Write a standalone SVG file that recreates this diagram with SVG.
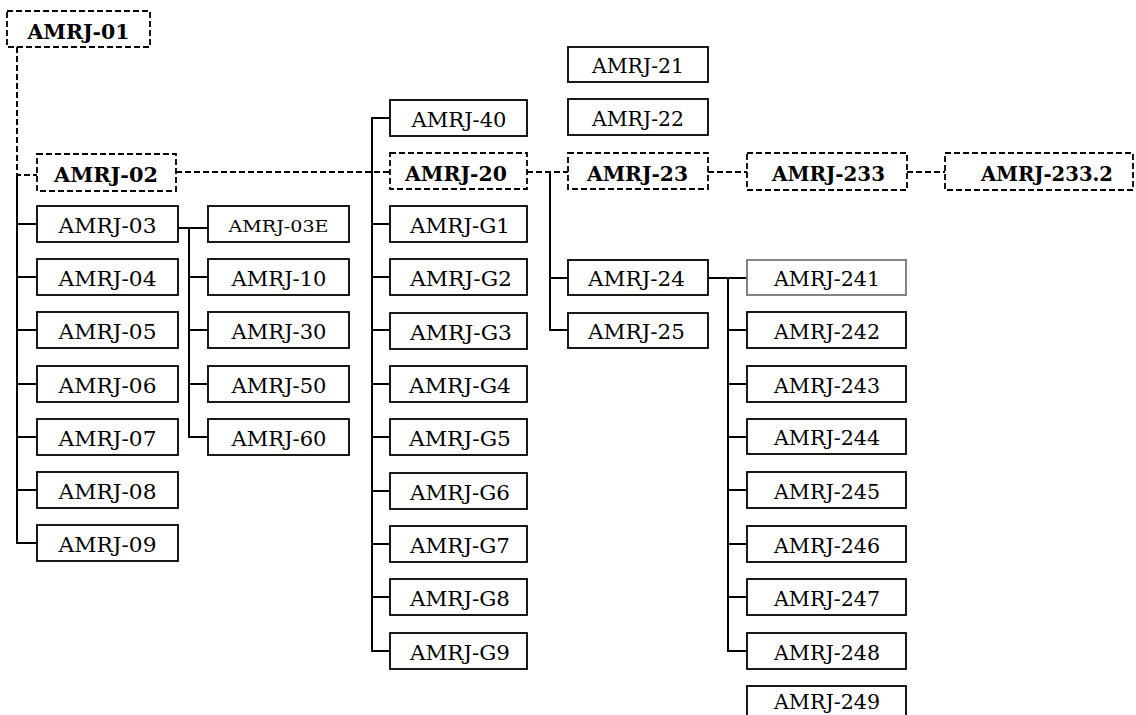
<svg xmlns="http://www.w3.org/2000/svg" width="1136" height="715" viewBox="0 0 1136 715">
<style>
.b{fill:#fff;stroke:#000;stroke-width:1.8}
.d{fill:#fff;stroke:#000;stroke-width:1.8;stroke-dasharray:6,3}
.g{fill:#fff;stroke:#777;stroke-width:1.8}
.t{font-family:"DejaVu Serif","Liberation Serif",serif;font-size:20px;fill:#000;text-anchor:middle}
.tb{font-family:"DejaVu Serif","Liberation Serif",serif;font-size:20px;font-weight:bold;fill:#000;text-anchor:middle}
.ts{font-family:"DejaVu Serif","Liberation Serif",serif;font-size:17px;fill:#000;text-anchor:middle}
.c{fill:none;stroke:#000;stroke-width:2}
.cd{fill:none;stroke:#000;stroke-width:2;stroke-dasharray:6,3}
</style>
<rect width="1136" height="715" fill="#fff"/>
<g id="connectors">
<path class="cd" d="M17 47V175H37"/>
<path class="c" d="M17 175V543H37M17 224H37M17 277H37M17 330H37M17 384H37M17 437H37M17 490H37"/>
<path class="c" d="M178 228H208M189 228V437H208M189 277H208M189 330H208M189 384H208"/>
<path class="cd" d="M176 172H390"/>
<path class="c" d="M390 118H372V651H390M372 224H390M372 277H390M372 330H390M372 384H390M372 437H390M372 491H390M372 544H390M372 597H390"/>
<path class="cd" d="M527 172H568"/>
<path class="c" d="M550 172V330H568M550 278H568"/>
<path class="cd" d="M708 172H747M907 172H945"/>
<path class="c" d="M708 278H747M728 278V651H747M728 330H747M728 384H747M728 437H747M728 490H747M728 544H747M728 597H747"/>
</g>
<g id="n01"><rect class="d" x="7" y="11" width="143" height="36"/><text class="tb" x="78.5" y="39" textLength="102" lengthAdjust="spacingAndGlyphs">AMRJ-01</text></g>
<g id="n02"><rect class="d" x="37" y="154" width="139" height="37"/><text class="tb" x="106" y="182" textLength="104" lengthAdjust="spacingAndGlyphs">AMRJ-02</text></g>
<g id="n03"><rect class="b" x="37" y="206" width="141" height="36"/><text class="t" x="107.5" y="233" textLength="98" lengthAdjust="spacingAndGlyphs">AMRJ-03</text></g>
<g id="n04"><rect class="b" x="37" y="259" width="141" height="36"/><text class="t" x="107.5" y="286" textLength="98" lengthAdjust="spacingAndGlyphs">AMRJ-04</text></g>
<g id="n05"><rect class="b" x="37" y="312" width="141" height="36"/><text class="t" x="107.5" y="339" textLength="98" lengthAdjust="spacingAndGlyphs">AMRJ-05</text></g>
<g id="n06"><rect class="b" x="37" y="366" width="141" height="36"/><text class="t" x="107.5" y="393" textLength="98" lengthAdjust="spacingAndGlyphs">AMRJ-06</text></g>
<g id="n07"><rect class="b" x="37" y="419" width="141" height="36"/><text class="t" x="107.5" y="446" textLength="98" lengthAdjust="spacingAndGlyphs">AMRJ-07</text></g>
<g id="n08"><rect class="b" x="37" y="472" width="141" height="36"/><text class="t" x="107.5" y="499" textLength="98" lengthAdjust="spacingAndGlyphs">AMRJ-08</text></g>
<g id="n09"><rect class="b" x="37" y="525" width="141" height="36"/><text class="t" x="107.5" y="552" textLength="98" lengthAdjust="spacingAndGlyphs">AMRJ-09</text></g>
<g id="n03E"><rect class="b" x="208" y="206" width="141" height="36"/><text class="ts" x="278.5" y="232" textLength="100" lengthAdjust="spacingAndGlyphs">AMRJ-03E</text></g>
<g id="n10"><rect class="b" x="208" y="259" width="141" height="36"/><text class="t" x="279" y="286" textLength="95" lengthAdjust="spacingAndGlyphs">AMRJ-10</text></g>
<g id="n30"><rect class="b" x="208" y="312" width="141" height="36"/><text class="t" x="279" y="339" textLength="95" lengthAdjust="spacingAndGlyphs">AMRJ-30</text></g>
<g id="n50"><rect class="b" x="208" y="366" width="141" height="36"/><text class="t" x="279" y="393" textLength="95" lengthAdjust="spacingAndGlyphs">AMRJ-50</text></g>
<g id="n60"><rect class="b" x="208" y="419" width="141" height="36"/><text class="t" x="279" y="446" textLength="95" lengthAdjust="spacingAndGlyphs">AMRJ-60</text></g>
<g id="n40"><rect class="b" x="390" y="100" width="137" height="36"/><text class="t" x="459" y="127" textLength="95" lengthAdjust="spacingAndGlyphs">AMRJ-40</text></g>
<g id="n20"><rect class="d" x="390" y="153" width="137" height="36"/><text class="tb" x="456" y="181" textLength="102" lengthAdjust="spacingAndGlyphs">AMRJ-20</text></g>
<g id="nG1"><rect class="b" x="390" y="206" width="137" height="36"/><text class="t" x="460" y="233" textLength="100" lengthAdjust="spacingAndGlyphs">AMRJ-G1</text></g>
<g id="nG2"><rect class="b" x="390" y="259" width="137" height="36"/><text class="t" x="461" y="286" textLength="102" lengthAdjust="spacingAndGlyphs">AMRJ-G2</text></g>
<g id="nG3"><rect class="b" x="390" y="313" width="137" height="36"/><text class="t" x="461" y="340" textLength="102" lengthAdjust="spacingAndGlyphs">AMRJ-G3</text></g>
<g id="nG4"><rect class="b" x="390" y="366" width="137" height="36"/><text class="t" x="460" y="393" textLength="102" lengthAdjust="spacingAndGlyphs">AMRJ-G4</text></g>
<g id="nG5"><rect class="b" x="390" y="419" width="137" height="36"/><text class="t" x="460" y="446" textLength="102" lengthAdjust="spacingAndGlyphs">AMRJ-G5</text></g>
<g id="nG6"><rect class="b" x="390" y="473" width="137" height="36"/><text class="t" x="460" y="500" textLength="100" lengthAdjust="spacingAndGlyphs">AMRJ-G6</text></g>
<g id="nG7"><rect class="b" x="390" y="526" width="137" height="36"/><text class="t" x="460" y="553" textLength="100" lengthAdjust="spacingAndGlyphs">AMRJ-G7</text></g>
<g id="nG8"><rect class="b" x="390" y="579" width="137" height="36"/><text class="t" x="460" y="606" textLength="100" lengthAdjust="spacingAndGlyphs">AMRJ-G8</text></g>
<g id="nG9"><rect class="b" x="390" y="633" width="137" height="36"/><text class="t" x="460" y="660" textLength="100" lengthAdjust="spacingAndGlyphs">AMRJ-G9</text></g>
<g id="n21"><rect class="b" x="568" y="47" width="140" height="35"/><text class="t" x="638" y="73" textLength="92" lengthAdjust="spacingAndGlyphs">AMRJ-21</text></g>
<g id="n22"><rect class="b" x="568" y="99" width="140" height="36"/><text class="t" x="638" y="126" textLength="92" lengthAdjust="spacingAndGlyphs">AMRJ-22</text></g>
<g id="n23"><rect class="d" x="568" y="153" width="140" height="36"/><text class="tb" x="637.5" y="181" textLength="101" lengthAdjust="spacingAndGlyphs">AMRJ-23</text></g>
<g id="n24"><rect class="b" x="568" y="260" width="140" height="35"/><text class="t" x="636.5" y="286" textLength="97" lengthAdjust="spacingAndGlyphs">AMRJ-24</text></g>
<g id="n25"><rect class="b" x="568" y="313" width="140" height="35"/><text class="t" x="636.5" y="339" textLength="97" lengthAdjust="spacingAndGlyphs">AMRJ-25</text></g>
<g id="n233"><rect class="d" x="747" y="153" width="160" height="37"/><text class="tb" x="828.5" y="181" textLength="113" lengthAdjust="spacingAndGlyphs">AMRJ-233</text></g>
<g id="n2332"><rect class="d" x="945" y="153" width="188" height="37"/><text class="tb" x="1047" y="181" textLength="132" lengthAdjust="spacingAndGlyphs">AMRJ-233.2</text></g>
<g id="n241"><rect class="g" x="747" y="260" width="159" height="35"/><text class="t" x="827" y="286" textLength="106" lengthAdjust="spacingAndGlyphs">AMRJ-241</text></g>
<g id="n242"><rect class="b" x="747" y="312" width="159" height="36"/><text class="t" x="827" y="339" textLength="106" lengthAdjust="spacingAndGlyphs">AMRJ-242</text></g>
<g id="n243"><rect class="b" x="747" y="366" width="159" height="36"/><text class="t" x="827" y="393" textLength="106" lengthAdjust="spacingAndGlyphs">AMRJ-243</text></g>
<g id="n244"><rect class="b" x="747" y="419" width="159" height="35"/><text class="t" x="827" y="445" textLength="106" lengthAdjust="spacingAndGlyphs">AMRJ-244</text></g>
<g id="n245"><rect class="b" x="747" y="472" width="159" height="36"/><text class="t" x="827" y="499" textLength="106" lengthAdjust="spacingAndGlyphs">AMRJ-245</text></g>
<g id="n246"><rect class="b" x="747" y="526" width="159" height="36"/><text class="t" x="827" y="553" textLength="106" lengthAdjust="spacingAndGlyphs">AMRJ-246</text></g>
<g id="n247"><rect class="b" x="747" y="579" width="159" height="36"/><text class="t" x="827" y="606" textLength="106" lengthAdjust="spacingAndGlyphs">AMRJ-247</text></g>
<g id="n248"><rect class="b" x="747" y="633" width="159" height="36"/><text class="t" x="827" y="660" textLength="106" lengthAdjust="spacingAndGlyphs">AMRJ-248</text></g>
<g id="n249"><rect class="b" x="747" y="686" width="159" height="36"/><text class="t" x="827" y="709" textLength="106" lengthAdjust="spacingAndGlyphs">AMRJ-249</text></g>
</svg>
